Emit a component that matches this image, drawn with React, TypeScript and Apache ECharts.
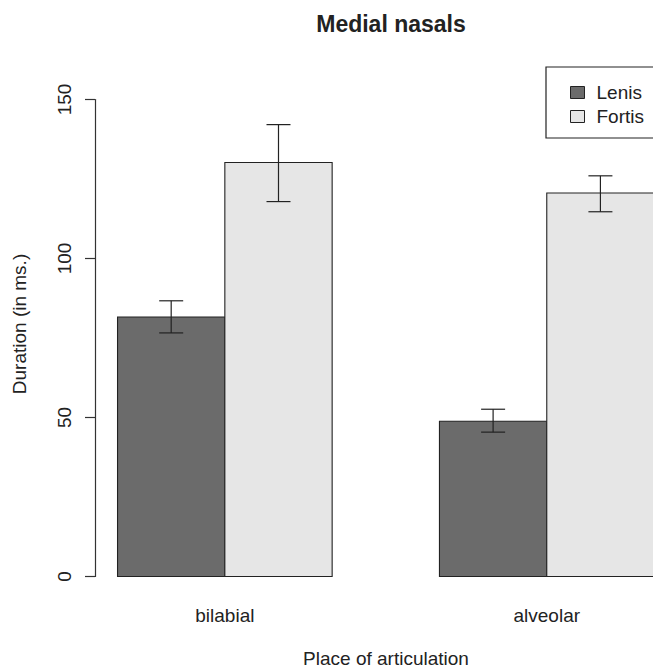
import React, { useEffect, useRef } from "react";
import * as echarts from "echarts";

const categories = ["bilabial", "alveolar"];
const groups = ["Lenis", "Fortis"];
const lenisMean = [81.6, 48.8];
const lenisLow = [76.6, 45.4];
const lenisHigh = [86.7, 52.6];
const fortisMean = [130.2, 120.6];
const fortisLow = [117.9, 114.7];
const fortisHigh = [142.1, 126.0];
const yTicks = [0, 50, 100, 150];

// bar layout in R barplot units (bar width = 1, one-bar gap between groups)
const groupStart = [1, 4];
const groupCenter = [2, 5];

const FONT = "Liberation Sans";

export default function App() {
  const ref = useRef<HTMLDivElement>(null);
  useEffect(() => {
    if (!ref.current) return;
    const chart = echarts.init(ref.current, undefined, { renderer: "svg" });

    const barData = (means: number[], offset: number) =>
      means.map((m, i) => [groupStart[i] + offset, groupStart[i] + offset + 1, m]);
    const errData = (lo: number[], hi: number[], offset: number) =>
      lo.map((l, i) => [groupStart[i] + offset + 0.5, l, hi[i]]);

    const barRender = (params: any, api: any) => {
      const p0 = api.coord([api.value(0), api.value(2)]);
      const p1 = api.coord([api.value(1), 0]);
      return {
        type: "rect",
        shape: { x: p0[0], y: p0[1], width: p1[0] - p0[0], height: p1[1] - p0[1] },
        style: { fill: api.visual("color"), stroke: "#222", lineWidth: 1.1 },
      };
    };
    const errRender = (params: any, api: any) => {
      const x = api.value(0);
      const lo = api.coord([x, api.value(1)]);
      const hi = api.coord([x, api.value(2)]);
      const cap = 12;
      const st = { stroke: "#222", lineWidth: 1.2 };
      return {
        type: "group",
        children: [
          { type: "line", shape: { x1: lo[0], y1: lo[1], x2: hi[0], y2: hi[1] }, style: st },
          { type: "line", shape: { x1: lo[0] - cap, y1: lo[1], x2: lo[0] + cap, y2: lo[1] }, style: st },
          { type: "line", shape: { x1: hi[0] - cap, y1: hi[1], x2: hi[0] + cap, y2: hi[1] }, style: st },
        ],
      };
    };

    chart.setOption({
      animation: false,
      backgroundColor: "#ffffff",
      textStyle: { fontFamily: FONT },
      title: {
        text: "Medial nasals",
        left: 386,
        top: 7,
        textAlign: "center",
        textStyle: { fontFamily: FONT, fontWeight: "bold", fontSize: 23, color: "#222" },
      },
      grid: { left: 95, right: 0, top: 99.5, bottom: 93.5 },
      xAxis: {
        type: "value",
        min: 0.79,
        max: 5.99,
        splitLine: { show: false },
        axisLine: { show: false },
        axisTick: { show: false },
        axisLabel: {
          customValues: groupCenter,
          formatter: (v: number) => categories[groupCenter.indexOf(Math.round(v))] ?? "",
          margin: 29,
          fontSize: 19,
          color: "#222",
          fontFamily: FONT,
        },
      },
      yAxis: {
        type: "value",
        min: 0,
        max: 150,
        interval: 50,
        splitLine: { show: false },
        axisLine: { show: true, lineStyle: { color: "#333", width: 1.2 } },
        axisTick: { show: true, inside: false, length: 10, lineStyle: { color: "#333", width: 1.2 } },
        axisLabel: {
          rotate: 90,
          margin: 21,
          fontSize: 19,
          color: "#222",
          fontFamily: FONT,
          formatter: (v: number) => (yTicks.includes(v) ? String(v) : ""),
        },
      },
      legend: {
        orient: "vertical",
        left: 565,
        top: 78,
        itemWidth: 14,
        itemHeight: 12,
        itemGap: 5,
        selectedMode: false,
        textStyle: { fontSize: 19, color: "#222", fontFamily: FONT, padding: [0, 0, 0, 7] },
        data: [
          { name: groups[0], icon: "rect", itemStyle: { color: "#6b6b6b", borderColor: "#222", borderWidth: 1 } },
          { name: groups[1], icon: "rect", itemStyle: { color: "#e6e6e6", borderColor: "#222", borderWidth: 1 } },
        ],
      },
      graphic: [
        {
          type: "rect",
          shape: { x: 546, y: 67, width: 200, height: 71 },
          style: { fill: "none", stroke: "#222", lineWidth: 1.2 },
          z: 10,
        },
        {
          type: "text",
          x: 386,
          y: 658,
          style: {
            text: "Place of articulation",
            fontSize: 19,
            fontFamily: FONT,
            fill: "#222",
            textAlign: "center",
            textVerticalAlign: "middle",
          },
        },
        {
          type: "text",
          x: 19,
          y: 324,
          rotation: Math.PI / 2,
          style: {
            text: "Duration (in ms.)",
            fontSize: 19,
            fontFamily: FONT,
            fill: "#222",
            textAlign: "center",
            textVerticalAlign: "middle",
          },
        },
      ],
      series: [
        {
          name: groups[0],
          type: "custom",
          renderItem: barRender,
          itemStyle: { color: "#6b6b6b" },
          encode: { x: [0, 1], y: 2 },
          data: barData(lenisMean, 0),
        },
        {
          name: groups[1],
          type: "custom",
          renderItem: barRender,
          itemStyle: { color: "#e6e6e6" },
          encode: { x: [0, 1], y: 2 },
          data: barData(fortisMean, 1),
        },
        {
          name: "LenisErr",
          type: "custom",
          renderItem: errRender,
          encode: { x: 0, y: [1, 2] },
          data: errData(lenisLow, lenisHigh, 0),
          z: 5,
        },
        {
          name: "FortisErr",
          type: "custom",
          renderItem: errRender,
          encode: { x: 0, y: [1, 2] },
          data: errData(fortisLow, fortisHigh, 1),
          z: 5,
        },
      ],
    });
    return () => chart.dispose();
  }, []);
  return <div ref={ref} style={{ width: 653, height: 670, position: "absolute", left: 0, top: 0 }} />;
}
